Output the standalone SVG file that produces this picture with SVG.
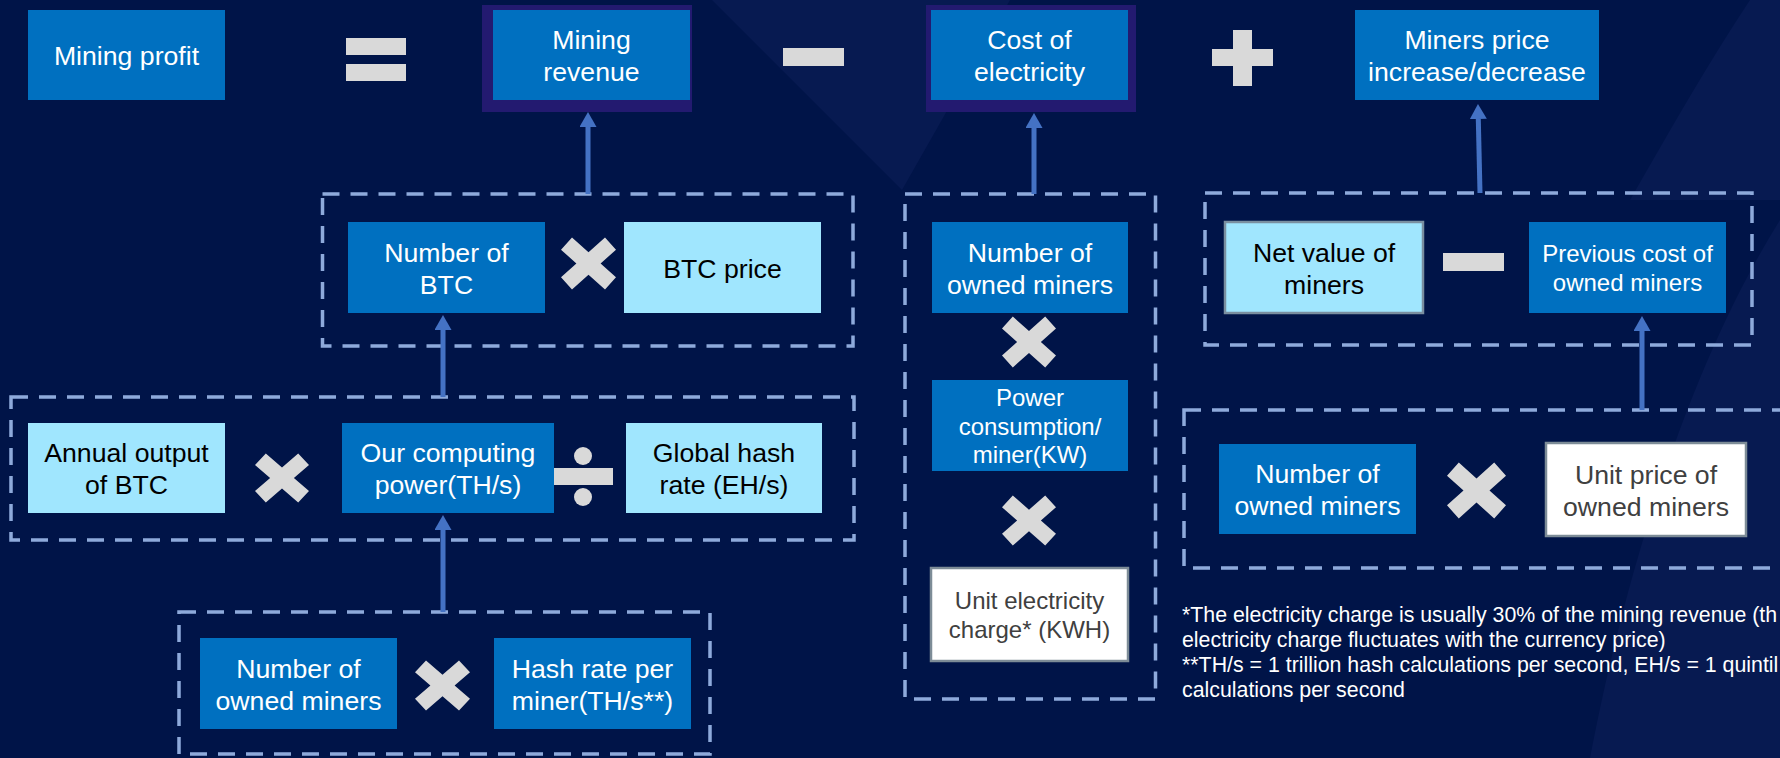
<svg xmlns="http://www.w3.org/2000/svg" xmlns:xlink="http://www.w3.org/1999/xlink" width="1780" height="758" viewBox="0 0 1780 758">
<style>
.bg{fill:#001448}
.deco{fill:#0a1d55;opacity:0.7}
.blue{fill:#0070c0}
.cyan{fill:#a0e6fe}
.cyanb{fill:#a0e6fe;stroke:#7a8fa0;stroke-width:2.5}
.white{fill:#ffffff;stroke:#7d8c97;stroke-width:2.5}
.shadow{fill:#231a70}
.op{fill:#d9d9d9}
.dash{fill:none;stroke:#8eaadb;stroke-width:3.5;stroke-dasharray:17 11}
.arrow{stroke:#4472c4;stroke-width:5;fill:none}
text{font-family:"Liberation Sans",Arial,sans-serif;text-anchor:middle}
.t{font-size:26.67px;fill:#ffffff}
.tk{font-size:26.67px;fill:#000000}
.tg{font-size:26.67px;fill:#404040}
.s{font-size:24px;fill:#ffffff}
.sg{font-size:24px;fill:#404040}
.note{font-size:21.33px;fill:#ffffff;text-anchor:start}
</style>
<defs>
<polygon id="mul" points="0,0.24 0.2,0.01 0.5,0.29 0.8,0.01 1,0.24 0.72,0.5 1,0.76 0.8,0.99 0.5,0.71 0.2,0.99 0,0.76 0.28,0.5"/>
<marker id="ah" viewBox="0 0 15 17" refX="0" refY="8.5" markerWidth="15" markerHeight="17" markerUnits="userSpaceOnUse" orient="auto">
<path d="M0,0 L15,8.5 L0,17 Z" fill="#4472c4"/>
</marker>
</defs>
<rect class="bg" x="0" y="0" width="1780" height="758"/>
<g id="background">
<polygon class="deco" points="712,0 902,190 1010,0"/>
<path class="deco" d="M1590,758 C1620,600 1680,380 1780,220 L1780,758 Z"/>
<path class="deco" d="M1630,200 C1670,130 1710,60 1750,0 L1780,0 L1780,200 Z"/>
</g>
<g id="groups">
<rect class="dash" x="322.5" y="194" width="530.5" height="152"/>
<rect class="dash" x="11" y="397" width="843" height="143"/>
<rect class="dash" x="179" y="612" width="531" height="142"/>
<rect class="dash" x="905" y="194" width="250.5" height="505"/>
<rect class="dash" x="1205" y="193" width="547" height="152"/>
<rect class="dash" x="1184" y="410" width="620" height="158"/>
</g>
<g id="connectors">
<line class="arrow" x1="588" y1="194" x2="588" y2="127" marker-end="url(#ah)"/>
<line class="arrow" x1="1034" y1="194" x2="1034" y2="128" marker-end="url(#ah)"/>
<line class="arrow" x1="1480" y1="193" x2="1478.3" y2="119" marker-end="url(#ah)"/>
<line class="arrow" x1="443" y1="397" x2="443" y2="330" marker-end="url(#ah)"/>
<line class="arrow" x1="443" y1="612" x2="443" y2="530" marker-end="url(#ah)"/>
<line class="arrow" x1="1642" y1="410" x2="1642" y2="331" marker-end="url(#ah)"/>
</g>
<g id="operators">
<rect class="op" x="346" y="38" width="60" height="17"/>
<rect class="op" x="346" y="64" width="60" height="17"/>
<rect class="op" x="783" y="48" width="61" height="18"/>
<polygon class="op" points="1233,30 1252,30 1252,49 1273,49 1273,66 1252,66 1252,86 1233,86 1233,66 1212,66 1212,49 1233,49"/>
<use xlink:href="#mul" class="op" transform="translate(561,237) scale(55,53)"/>
<use xlink:href="#mul" class="op" transform="translate(255,453) scale(54,50)"/>
<rect class="op" x="553" y="468" width="60" height="17"/>
<circle class="op" cx="583" cy="456" r="9"/>
<circle class="op" cx="583" cy="497" r="9"/>
<use xlink:href="#mul" class="op" transform="translate(415,660) scale(55,51)"/>
<use xlink:href="#mul" class="op" transform="translate(1002,316) scale(54,52)"/>
<use xlink:href="#mul" class="op" transform="translate(1002,495) scale(54,51)"/>
<rect class="op" x="1443" y="253" width="61" height="18"/>
<use xlink:href="#mul" class="op" transform="translate(1447,462) scale(59,57)"/>
</g>
<g id="n-profit">
<rect class="blue" x="28" y="10" width="197" height="90"/>
<text class="t" x="126.5" y="65">Mining profit</text>
</g>
<g id="n-revenue">
<rect class="shadow" x="482" y="5" width="210" height="107"/>
<rect class="blue" x="493" y="10" width="197" height="90"/>
<text class="t" x="591.5" y="49">Mining</text>
<text class="t" x="591.5" y="81">revenue</text>
</g>
<g id="n-cost">
<rect class="shadow" x="926" y="5" width="210" height="107"/>
<rect class="blue" x="931" y="10" width="197" height="90"/>
<text class="t" x="1029.5" y="49">Cost of</text>
<text class="t" x="1029.5" y="81">electricity</text>
</g>
<g id="n-miners-price">
<rect class="blue" x="1355" y="10" width="244" height="90"/>
<text class="t" x="1477" y="49">Miners price</text>
<text class="t" x="1477" y="81">increase/decrease</text>
</g>
<g id="n-btc-count">
<rect class="blue" x="348" y="222" width="197" height="91"/>
<text class="t" x="446.5" y="261.5">Number of</text>
<text class="t" x="446.5" y="293.5">BTC</text>
</g>
<g id="n-btc-price">
<rect class="cyan" x="624" y="222" width="197" height="91"/>
<text class="tk" x="722.5" y="277.5">BTC price</text>
</g>
<g id="n-annual">
<rect class="cyan" x="28" y="423" width="197" height="90"/>
<text class="tk" x="126.5" y="462">Annual output</text>
<text class="tk" x="126.5" y="494">of BTC</text>
</g>
<g id="n-computing">
<rect class="blue" x="342" y="423" width="212" height="90"/>
<text class="t" x="448" y="462">Our computing</text>
<text class="t" x="448" y="494">power(TH/s)</text>
</g>
<g id="n-global">
<rect class="cyan" x="626" y="423" width="196" height="90"/>
<text class="tk" x="724" y="462">Global hash</text>
<text class="tk" x="724" y="494">rate (EH/s)</text>
</g>
<g id="n-owned-1">
<rect class="blue" x="200" y="638" width="197" height="91"/>
<text class="t" x="298.5" y="677.5">Number of</text>
<text class="t" x="298.5" y="709.5">owned miners</text>
</g>
<g id="n-hashrate">
<rect class="blue" x="494" y="638" width="197" height="91"/>
<text class="t" x="592.5" y="677.5">Hash rate per</text>
<text class="t" x="592.5" y="709.5">miner(TH/s**)</text>
</g>
<g id="n-owned-2">
<rect class="blue" x="932" y="222" width="196" height="91"/>
<text class="t" x="1030" y="261.5">Number of</text>
<text class="t" x="1030" y="293.5">owned miners</text>
</g>
<g id="n-power">
<rect class="blue" x="932" y="380" width="196" height="91"/>
<text class="s" x="1030" y="406">Power</text>
<text class="s" x="1030" y="434.5">consumption/</text>
<text class="s" x="1030" y="463">miner(KW)</text>
</g>
<g id="n-unit-elec">
<rect class="white" x="931" y="568" width="197" height="93"/>
<text class="sg" x="1029.5" y="609">Unit electricity</text>
<text class="sg" x="1029.5" y="637.5">charge* (KWH)</text>
</g>
<g id="n-netvalue">
<rect class="cyanb" x="1225" y="222" width="198" height="91"/>
<text class="tk" x="1324" y="261.5">Net value of</text>
<text class="tk" x="1324" y="293.5">miners</text>
</g>
<g id="n-prevcost">
<rect class="blue" x="1529" y="222" width="197" height="91"/>
<text class="s" x="1627.5" y="262">Previous cost of</text>
<text class="s" x="1627.5" y="290.5">owned miners</text>
</g>
<g id="n-owned-3">
<rect class="blue" x="1219" y="444" width="197" height="90"/>
<text class="t" x="1317.5" y="483">Number of</text>
<text class="t" x="1317.5" y="515">owned miners</text>
</g>
<g id="n-unitprice">
<rect class="white" x="1546" y="443" width="200" height="93"/>
<text class="tg" x="1646" y="483.5">Unit price of</text>
<text class="tg" x="1646" y="515.5">owned miners</text>
</g>
<g id="footnote">
<text class="note" x="1182" y="622">*The electricity charge is usually 30% of the mining revenue (th</text>
<text class="note" x="1182" y="647">electricity charge fluctuates with the currency price)</text>
<text class="note" x="1182" y="672">**TH/s = 1 trillion hash calculations per second, EH/s = 1 quintil</text>
<text class="note" x="1182" y="697">calculations per second</text>
</g>
</svg>
